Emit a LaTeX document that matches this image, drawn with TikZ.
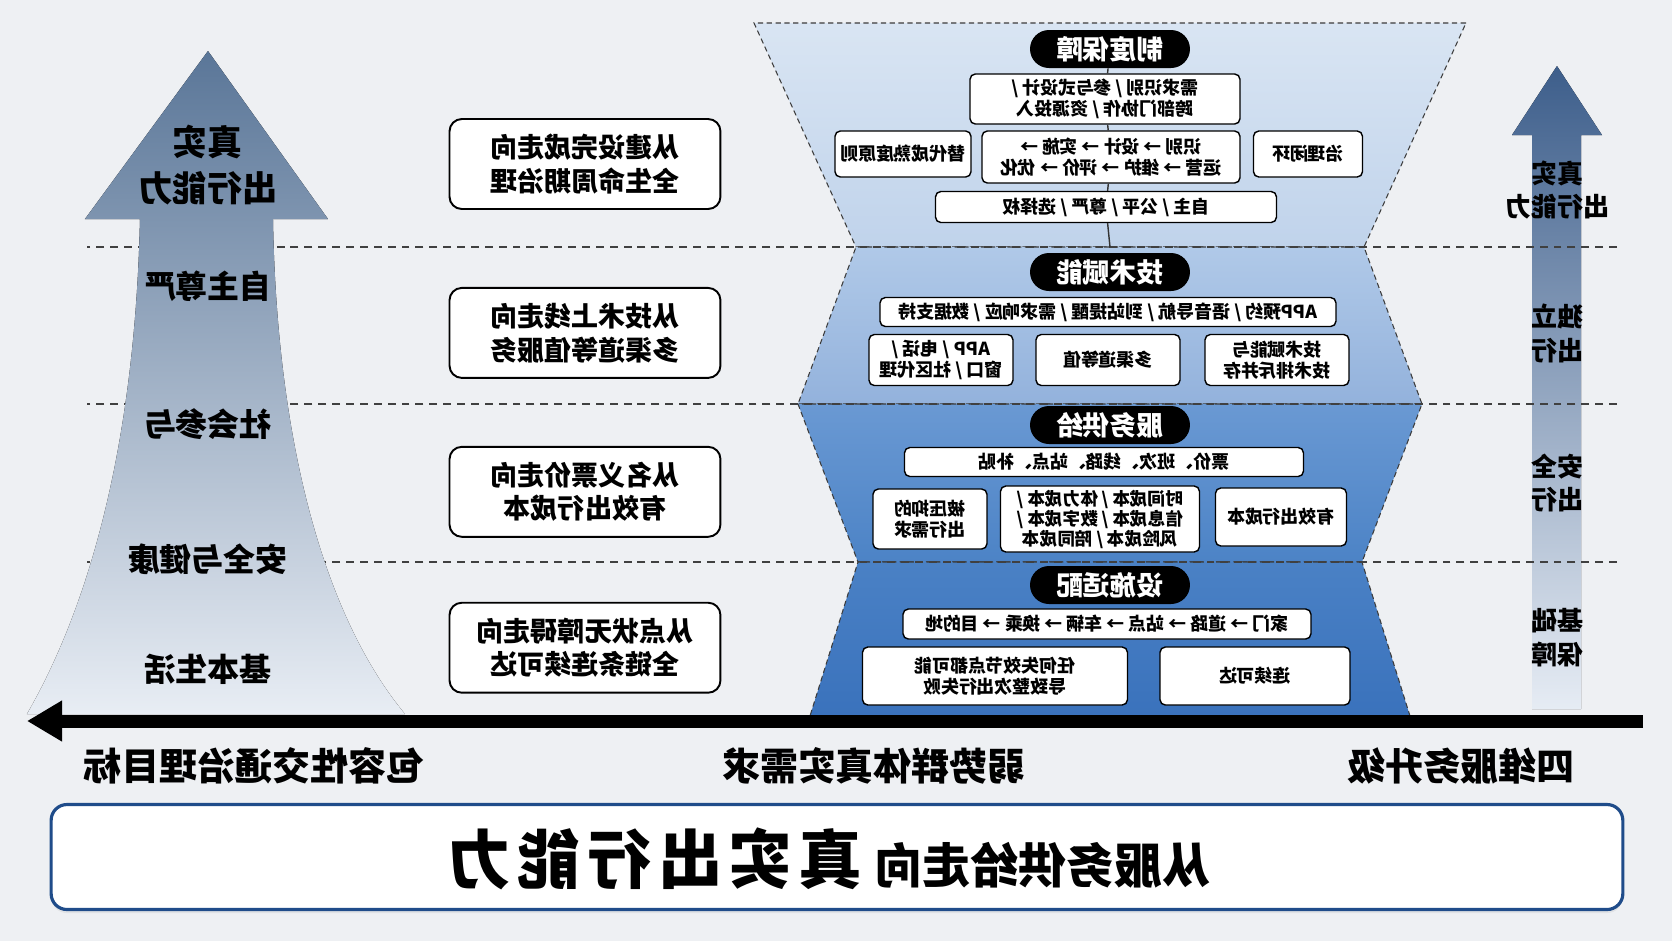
\documentclass[tikz,border=0pt]{standalone}
\usepackage{fontspec}
\setmainfont{Noto Sans CJK SC}
\usetikzlibrary{
  arrows.meta,
  positioning,
  calc,
  shadows
}
\definecolor{PaperGray}{HTML}{EEF0F3}
\definecolor{EdgeGray}{HTML}{3C3C3C}
\definecolor{LayA}{HTML}{D9E5F3}
\definecolor{LayAb}{HTML}{C0D3EB}
\definecolor{LayB}{HTML}{B0C9E8}
\definecolor{LayBb}{HTML}{93B2DC}
\definecolor{LayC}{HTML}{6A99D3}
\definecolor{LayCb}{HTML}{4C83C6}
\definecolor{LayD}{HTML}{4A81C5}
\definecolor{LayDb}{HTML}{3A72BC}
\definecolor{SlateTop}{HTML}{5A7698}
\definecolor{SlateMid}{HTML}{AEBDD0}
\definecolor{SlateBot}{HTML}{E8EDF4}
\definecolor{NavyTop}{HTML}{3D5E8B}
\definecolor{NavyBot}{HTML}{E6ECF4}
\definecolor{FrameNavy}{HTML}{1F4C8A}
% font sizes (one layout pixel = 0.569pt)
\newcommand\fzMid{\fontsize{15.4pt}{19.3pt}\selectfont\bfseries}
\newcommand\fzUp{\fontsize{18.2pt}{24pt}\selectfont\bfseries}
\newcommand\fzUpTop{\fontsize{19.9pt}{26.2pt}\selectfont\bfseries}
\newcommand\fzSide{\fontsize{14.8pt}{19.3pt}\selectfont\bfseries}
\newcommand\fzPill{\fontsize{15.2pt}{17pt}\selectfont\bfseries}
\newcommand\fzTag{\fontsize{10.2pt}{12pt}\selectfont\bfseries}
\newcommand\fzFoot{\fontsize{21.6pt}{26pt}\selectfont\bfseries}
\newcommand\fzTitleS{\fontsize{27.3pt}{32pt}\selectfont\bfseries}
\newcommand\fzTitleB{\fontsize{36.4pt}{42pt}\selectfont\bfseries\addfontfeature{LetterSpace=10}}
\tikzset{
  % hourglass layer, #1 = colour pair
  layer/.style={
    draw=EdgeGray, dash pattern=on 3pt off 2pt, line width=0.6pt,
    top color=#1, bottom color=#1b
  },
  % black title pill of a layer
  pill/.style={
    rectangle, rounded corners=10.8pt, fill=black, text=white,
    minimum width=3.2cm, minimum height=0.76cm, inner sep=0pt,
    font=\fzPill
  },
  % small white tag inside a layer
  tag/.style={
    rectangle, rounded corners=3pt, draw=black, line width=0.8pt,
    fill=white, align=center, inner sep=1pt, font=\fzTag
  },
  % shift box in the middle column
  shiftbox/.style={
    rectangle, rounded corners=7pt, draw=black, line width=1.1pt,
    fill=white, minimum width=5.42cm, minimum height=1.8cm,
    align=center, font=\fzMid
  },
  % dashed level separator
  sep/.style={draw=black!75, dash pattern=on 4.5pt off 3.4pt, line width=0.8pt},
  % connector inside the top layer
  link/.style={draw=black!80, line width=0.8pt},
  % labels on the arrows
  uplbl/.style={font=\fzUp, align=center, inner sep=0pt},
  sidelbl/.style={font=\fzSide, align=center, inner sep=0pt},
  footlbl/.style={font=\fzFoot, inner sep=0pt}
}
\begin{document}
\begin{tikzpicture}[x=0.02cm, y=-0.02cm, xscale=-1,
    every node/.append style={transform shape}]
  % paper
  \fill[PaperGray] (0,0) rectangle (1672,941);

  % thin arrow of the four levels
  \fill[top color=NavyTop, bottom color=NavyBot]
    (115,66) -- (160,135) -- (140,135) -- (140,709) -- (91,709) -- (91,135) -- (70,135) -- cycle;
  \node[sidelbl] (v1) at (115,190) {真实\\出行能力};
  \node[sidelbl] (v2) at (115,333) {独立\\出行};
  \node[sidelbl] (v3) at (115,483) {安全\\出行};
  \node[sidelbl] (v4) at (115,638) {基础\\保障};

  % hourglass
  \path[layer=LayA] (206,23) -- (918,23) -- (816,247) -- (308,247) -- cycle;
  \path[layer=LayB] (308,247) -- (816,247) -- (874,404) -- (250,404) -- cycle;
  \path[layer=LayC] (250,404) -- (874,404) -- (814,562) -- (310,562) -- cycle;
  \path[layer=LayD] (310,562) -- (814,562) -- (862,716) -- (262,716) -- cycle;

  % level separators
  \draw[sep] (55,247) -- (1585,247);
  \draw[sep] (55,404) -- (1585,404);
  \draw[sep] (55,562) -- (1585,562);

  % big arrow of the goal
  \fill[top color=SlateTop, middle color=SlateMid, bottom color=SlateBot]
    (1464,51) -- (1344,219) -- (1399,219)
    .. controls (1395,450) and (1345,620) .. (1267,714)
    -- (1645,714)
    .. controls (1585,610) and (1537,450) .. (1532,219)
    -- (1587,219) -- cycle;
  \node[uplbl, font=\fzUpTop] (g0) at (1464,165) {真实\\出行能力};
  \node[uplbl] (g1) at (1464,286) {自主尊严};
  \node[uplbl] (g2) at (1464,424) {社会参与};
  \node[uplbl] (g3) at (1464,559) {安全与健康};
  \node[uplbl] (g4) at (1464,669) {基本生活};

  % axis
  \coordinate (ax0) at (29,721);
  \coordinate (ax1) at (1645,721);
  \draw[line width=7.4pt, -{Triangle[length=20pt,width=22pt]}] (ax0) -- (ax1);

  % layer 1
  \node[pill] (p1) at (562,49) {制度保障};
  \node[tag, minimum width=5.4cm, minimum height=1cm] (zd1) at (567,99) {需求识别 / 参与式设计 /\\跨部门协作 / 资源投入};
  \node[tag, minimum width=5.16cm, minimum height=1.04cm] (zd2) at (561,157) {识别 → 设计 → 实施 →\\运营 → 维护 → 评价 → 优化};
  \node[tag, minimum width=2.18cm, minimum height=0.92cm] (zd3) at (364,154) {治理闭环};
  \node[tag, minimum width=2.72cm, minimum height=0.92cm] (zd4) at (769,154) {替代成熟度原则};
  \node[tag, minimum width=6.82cm, minimum height=0.62cm] (zd5) at (566,207) {自主 / 公平 / 尊严 / 选择权};
  \coordinate (zdEnd) at (562,247);
  \draw[link] (p1) -- (zd1);
  \draw[link] (zd1) -- (zd2);
  \draw[link] (zd2) -- (zd5);
  \draw[link] (zd5) -- (zdEnd);

  % layer 2
  \node[pill] (p2) at (562,272) {技术赋能};
  \node[tag, minimum width=9.12cm, minimum height=0.58cm] (js1) at (564,312) {APP预约 / 语音导航 / 到站提醒 / 需求响应 / 数据支持};
  \node[tag, minimum width=2.88cm, minimum height=1.02cm] (js2) at (395,360) {技术赋能与\\技术排斥并存};
  \node[tag, minimum width=2.88cm, minimum height=1.02cm] (js3) at (564,360) {多渠道等值};
  \node[tag, minimum width=2.88cm, minimum height=1.02cm] (js4) at (731,360) {APP / 电话 /\\窗口 / 社区代理};

  % layer 3
  \node[pill] (p3) at (562,425) {服务供给};
  \node[tag, minimum width=7.98cm, minimum height=0.58cm] (fw1) at (568,462) {票价、班次、线路、站点、补贴};
  \node[tag, minimum width=2.62cm, minimum height=1.16cm] (fw2) at (391,517) {有效出行成本};
  \node[tag, minimum width=3.98cm, minimum height=1.32cm, font=\fontsize{10pt}{11.4pt}\selectfont\bfseries] (fw3) at (572,519) {时间成本 / 体力成本 /\\信息成本 / 数字成本 /\\风险成本 / 陪同成本};
  \node[tag, minimum width=2.28cm, minimum height=1.2cm] (fw4) at (742,519) {被压抑的\\出行需求};

  % layer 4
  \node[pill] (p4) at (562,585) {设施适配};
  \node[tag, minimum width=8.16cm, minimum height=0.6cm] (ss1) at (565,624) {家门 → 道路 → 站点 → 车辆 → 换乘 → 目的地};
  \node[tag, minimum width=3.8cm, minimum height=1.16cm] (ss2) at (417,676) {连续可达};
  \node[tag, minimum width=5.3cm, minimum height=1.16cm] (ss3) at (677,676) {任何失效节点都可能\\导致整次出行失败};

  % middle column of shifts
  \node[shiftbox] (s1) at (1087,164) {从建设完成走向\\全生命周期治理};
  \node[shiftbox, below=1.54cm of s1] (s2) {从技术上线走向\\多渠道等值服务};
  \node[shiftbox, below=1.34cm of s2] (s3) {从名义票价走向\\有效出行成本};
  \node[shiftbox, below=1.28cm of s3] (s4) {从点状无障碍走向\\全链条连续可达};

  % axis labels
  \node[footlbl] (f1) at (211,766) {四维服务升级};
  \node[footlbl] (f2) at (798,766) {弱势群体真实需求};
  \node[footlbl] (f3) at (1418,766) {包容性交通治理目标};

  % title
  \node[rectangle, rounded corners=9pt, draw=FrameNavy, line width=1.8pt, fill=white,
        minimum width=31.44cm, minimum height=2.1cm,
        drop shadow={opacity=0.12, shadow xshift=0pt, shadow yshift=-2pt}] (frame) at (835,857) {};
  \node[anchor=base] (title) at (843,883) {\fzTitleS 从服务供给走向\hspace{0.25em}\fzTitleB 真实出行能力};
\end{tikzpicture}
\end{document}
